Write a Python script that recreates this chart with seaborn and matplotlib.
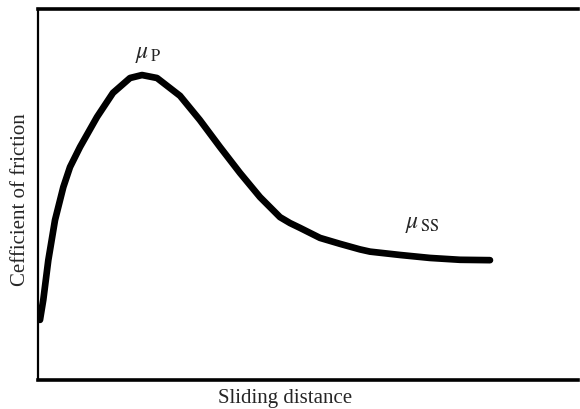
import matplotlib
matplotlib.use("Agg")
import matplotlib.pyplot as plt
import seaborn as sns
import pandas as pd

# Curve (arbitrary units: distance 0-100, friction 0-1)
distance = [0.37, 0.98, 1.91, 3.15, 4.69, 5.93, 7.78, 10.93, 13.89, 17.04,
            19.26, 22.04, 26.30, 29.96, 33.70, 37.41, 41.11, 44.81, 46.67,
            48.52, 52.22, 55.93, 59.63, 61.48, 67.04, 72.59, 78.15, 83.70]
friction = [0.162, 0.216, 0.323, 0.431, 0.520, 0.574, 0.628, 0.709, 0.774,
            0.814, 0.822, 0.814, 0.766, 0.701, 0.628, 0.558, 0.493, 0.439,
            0.423, 0.410, 0.383, 0.367, 0.352, 0.346, 0.337, 0.329, 0.324,
            0.323]

df = pd.DataFrame({"distance": distance, "friction": friction})

sns.set_style("white")
plt.rcParams["mathtext.fontset"] = "stix"
plt.rcParams["font.family"] = ["Liberation Serif", "DejaVu Serif"]

fig = plt.figure(figsize=(5.8, 4.09), dpi=100)
ax = fig.add_axes([38 / 580, 29 / 409, 540 / 580, 371 / 409])
sns.lineplot(data=df, x="distance", y="friction", ax=ax, color="black",
             linewidth=4.8, solid_capstyle="round", solid_joinstyle="round",
             estimator=None, sort=False)
ax.set_xlim(0, 100)
ax.set_ylim(0, 1)
ax.set_xticks([])
ax.set_yticks([])
ax.set_xlabel("")
ax.set_ylabel("")
ax.spines["right"].set_visible(False)
for s in ["top", "bottom"]:
    ax.spines[s].set_linewidth(2.6)
    ax.spines[s].set_color("black")
ax.spines["left"].set_linewidth(1.6)
ax.spines["left"].set_color("black")

ax.text(18.0, 0.868, r"$\mu_{\,\mathrm{P}}$", fontsize=17, ha="left",
        va="baseline")
ax.text(68.0, 0.41, r"$\mu_{\,\mathrm{SS}}$", fontsize=17, ha="left",
        va="baseline")

fig.text(285 / 580, 1 - 398 / 409, "Sliding distance", fontsize=15,
         ha="center", va="center")
fig.text(21 / 580, 1 - 200 / 409, "Cefficient of friction", fontsize=15,
         ha="center", va="center", rotation=90)

fig.savefig("out.png", dpi=100)
